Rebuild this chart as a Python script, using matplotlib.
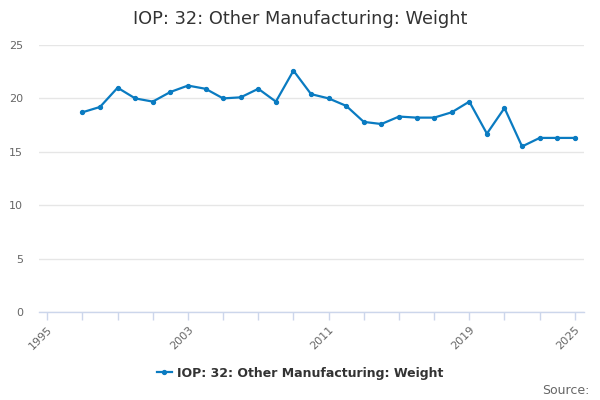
import matplotlib
matplotlib.use("Agg")
import matplotlib.pyplot as plt
from matplotlib.lines import Line2D

years = list(range(1997, 2026))
values = [18.7, 19.2, 21.0, 20.0, 19.7, 20.6, 21.2, 20.9, 20.0, 20.1,
          20.9, 19.7, 22.6, 20.4, 20.0, 19.3, 17.8, 17.6, 18.3, 18.2,
          18.2, 18.7, 19.7, 16.7, 19.1, 15.5, 16.3, 16.3, 16.3]
title = "IOP: 32: Other Manufacturing: Weight"
series_name = "IOP: 32: Other Manufacturing: Weight"
x_ticks = list(range(1995, 2026, 2))
x_labels = {1995: "1995", 2003: "2003", 2011: "2011", 2019: "2019", 2025: "2025"}
y_ticks = [0, 5, 10, 15, 20, 25]

color = "#0a7bc1"
plt.rcParams['font.family'] = ['DejaVu Sans']

fig = plt.figure(figsize=(6, 4), dpi=100)
ax = fig.add_axes([0.065, 0.22, 0.908, 0.6675])
ax.plot(years, values, color=color, lw=1.6, marker='o', ms=2.8, zorder=3)

ax.set_xlim(1994.53, 2025.51)
ax.set_ylim(0, 25)
ax.set_yticks(y_ticks)
ax.set_yticklabels([str(v) for v in y_ticks], color="#666666", fontsize=8)
ax.set_xticks(x_ticks)
ax.set_xticklabels([x_labels.get(t, "") for t in x_ticks], rotation=45,
                   ha='right', va='top', rotation_mode='anchor',
                   color="#666666", fontsize=8)
ax.tick_params(axis='y', length=0, pad=11.5)
ax.tick_params(axis='x', length=6, color="#ccd6eb", width=1, pad=3)
ax.grid(axis='y', color="#e6e6e6", lw=1)
ax.set_axisbelow(True)
for s in ['top', 'right', 'left']:
    ax.spines[s].set_visible(False)
ax.spines['bottom'].set_color("#ccd6eb")
ax.spines['bottom'].set_linewidth(1)

fig.text(0.5, 0.953, title, ha='center', va='center', fontsize=12.8, color="#333333")

handle = Line2D([], [], color=color, lw=1.6, marker='o', ms=2.8)
leg = fig.legend([handle], [series_name], loc='center', bbox_to_anchor=(0.5, 0.067),
                 frameon=False, handlelength=1.2, handletextpad=0.4,
                 prop={'size': 9, 'weight': 'bold'})
for t in leg.get_texts():
    t.set_color("#333333")

fig.text(0.982, 0.025, "Source:", ha='right', va='center', fontsize=9, color="#666666")

fig.savefig("out.png", dpi=100)
